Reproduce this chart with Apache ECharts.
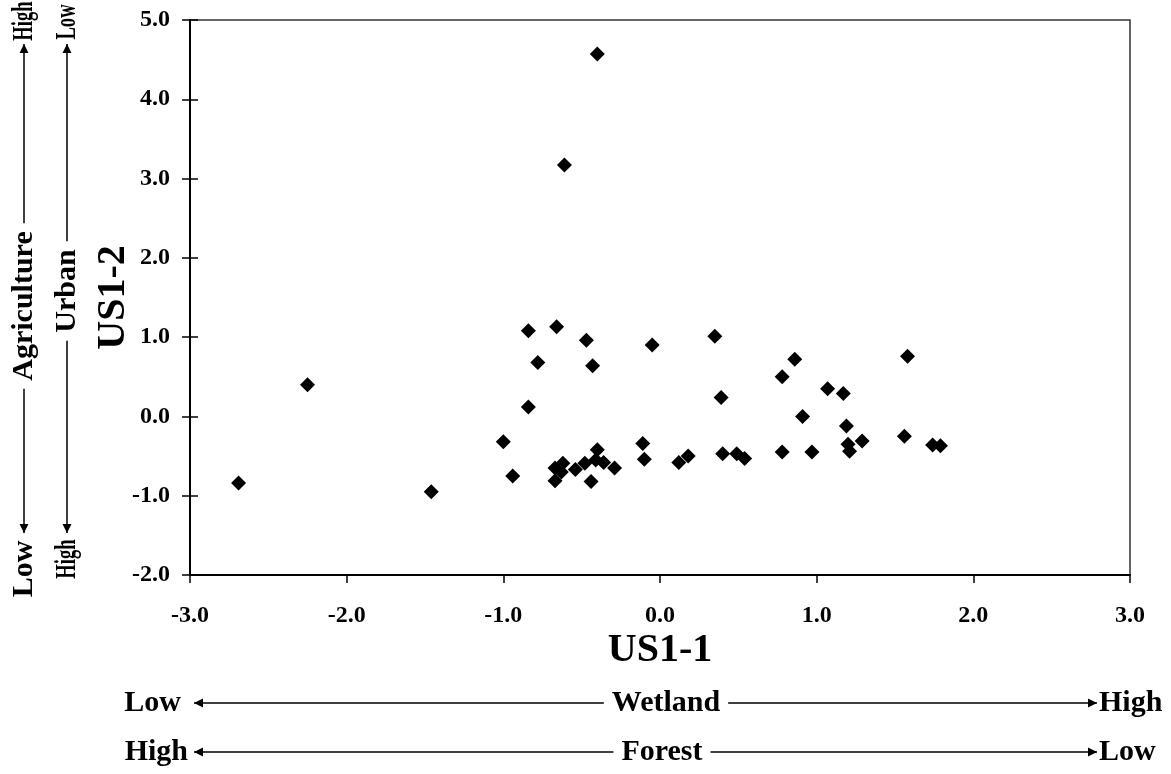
<!DOCTYPE html>
<html>
<head>
<meta charset="utf-8">
<script src="https://cdn.jsdelivr.net/npm/echarts@6/dist/echarts.min.js"></script>
<style>
  html, body { margin: 0; padding: 0; background: #fff; }
  #chart { width: 1171px; height: 774px; }
</style>
</head>
<body>
<div id="chart"></div>
<script>
// site scores
var us11 = [-2.69, -2.25, -1.46, -1.00, -0.94, -0.84, -0.66, -0.47, -0.78, -0.43,
            -0.84, -0.40, -0.41, -0.36, -0.29, -0.48, -0.54, -0.67, -0.62, -0.63,
            -0.67, -0.44, 0.12, 0.18, -0.40, -0.61, -0.05, 0.35, 0.86, 1.58,
            0.78, 1.07, 1.17, 0.39, 0.91, 1.19, 1.56, -0.11, -0.10, 1.29,
            1.20, 1.21, 1.74, 1.79, 0.78, 0.97, 0.40, 0.49, 0.54];
var us12 = [-0.84, 0.40, -0.95, -0.32, -0.75, 1.08, 1.13, 0.96, 0.68, 0.64,
            0.12, -0.42, -0.55, -0.58, -0.65, -0.59, -0.67, -0.65, -0.59, -0.70,
            -0.81, -0.82, -0.58, -0.50, 4.57, 3.17, 0.90, 1.01, 0.72, 0.76,
            0.50, 0.35, 0.29, 0.24, 0.00, -0.12, -0.25, -0.34, -0.54, -0.31,
            -0.35, -0.44, -0.36, -0.37, -0.45, -0.45, -0.47, -0.47, -0.53];
var xLabel = 'US1-1';
var yLabel = 'US1-2';

var FONT = 'Liberation Serif';
var points = us11.map(function (x, i) { return [x, us12[i]]; });

// arrow helpers for the gradient annotations
function head(x, y, dir) {
  var s = 9, w = 4.5;
  var pts;
  if (dir === 'left') pts = [[x, y], [x + s, y - w], [x + s, y + w]];
  if (dir === 'right') pts = [[x, y], [x - s, y - w], [x - s, y + w]];
  if (dir === 'up') pts = [[x, y], [x - w, y + s], [x + w, y + s]];
  if (dir === 'down') pts = [[x, y], [x - w, y - s], [x + w, y - s]];
  return { type: 'polygon', shape: { points: pts }, style: { fill: '#000' }, z: 10 };
}
function line(x1, y1, x2, y2) {
  return { type: 'line', shape: { x1: x1, y1: y1, x2: x2, y2: y2 },
           style: { stroke: '#000', lineWidth: 1.5 }, z: 9 };
}
function txt(s, x, y, align, rot, squeeze) {
  return { type: 'text', x: x, y: y, rotation: rot || 0, scaleX: squeeze || 1, z: 11,
           style: { text: s, font: 'bold 30px ' + FONT, fill: '#000',
                    align: align, verticalAlign: 'middle' } };
}
function label(s, x, y, rot) {
  var t = txt(s, x, y, 'center', rot);
  t.style.backgroundColor = '#fff';
  t.style.padding = [0, 8];
  return t;
}

var R = Math.PI / 2;
var graphics = [
  // horizontal: Wetland
  line(194, 703, 1097, 703), head(194, 703, 'left'), head(1097, 703, 'right'),
  label('Wetland', 666, 703), txt('Low', 181, 703, 'right'), txt('High', 1099, 703, 'left'),
  // horizontal: Forest
  line(194, 752, 1097, 752), head(194, 752, 'left'), head(1097, 752, 'right'),
  label('Forest', 662, 752), txt('High', 188, 752, 'right'), txt('Low', 1099, 752, 'left'),
  // vertical: Agriculture
  line(24, 44, 24, 533), head(24, 44, 'up'), head(24, 533, 'down'),
  label('Agriculture', 24, 306, R), txt('High', 24, 21, 'center', R, 0.62), txt('Low', 24, 569, 'center', R),
  // vertical: Urban
  line(67, 44, 67, 533), head(67, 44, 'up'), head(67, 533, 'down'),
  label('Urban', 67, 291, R), txt('Low', 67, 22, 'center', R, 0.62), txt('High', 67, 559, 'center', R, 0.62)
];

var tickLabel = { fontFamily: FONT, fontWeight: 'bold', fontSize: 24, color: '#000',
                  formatter: function (v) { return v.toFixed(1); } };

var option = {
  backgroundColor: '#fff',
  animation: false,
  grid: { left: 190, right: 41, top: 20, bottom: 199, show: true,
          borderColor: '#333', borderWidth: 1.5, backgroundColor: 'transparent' },
  xAxis: {
    type: 'value', min: -3, max: 3, interval: 1,
    name: xLabel, nameLocation: 'middle', nameGap: 56, nameMoveOverlap: false,
    nameTextStyle: { fontFamily: FONT, fontWeight: 'bold', fontSize: 40, color: '#000' },
    axisLine: { show: true, onZero: false, lineStyle: { color: '#000', width: 2 } },
    axisTick: { show: true, inside: false, length: 8, lineStyle: { color: '#000', width: 1.5 } },
    axisLabel: Object.assign({ margin: 29 }, tickLabel),
    splitLine: { show: false }
  },
  yAxis: [{
    type: 'value', min: -2, max: 5, interval: 1,
    name: yLabel, nameLocation: 'middle', nameGap: 56, nameRotate: 90, nameMoveOverlap: false,
    nameTextStyle: { fontFamily: FONT, fontWeight: 'bold', fontSize: 40, color: '#000' },
    axisLine: { show: true, onZero: false, lineStyle: { color: '#000', width: 2 } },
    axisTick: { show: true, inside: false, length: 8, lineStyle: { color: '#000', width: 1.5 } },
    axisLabel: Object.assign({ margin: 20 }, tickLabel),
    splitLine: { show: false }
  }, {
    // second copy of the y axis so the ticks cross the axis line
    type: 'value', min: -2, max: 5, interval: 1, position: 'left',
    axisLine: { show: false, onZero: false },
    axisTick: { show: true, inside: true, length: 8, lineStyle: { color: '#000', width: 1.5 } },
    axisLabel: { show: false },
    splitLine: { show: false }
  }],
  series: [{
    type: 'scatter',
    data: points,
    symbol: 'diamond',
    symbolSize: 15,
    itemStyle: { color: '#000', opacity: 1 }
  }],
  graphic: graphics
};

var myChart = echarts.init(document.getElementById('chart'));
myChart.setOption(option);
</script>
</body>
</html>
